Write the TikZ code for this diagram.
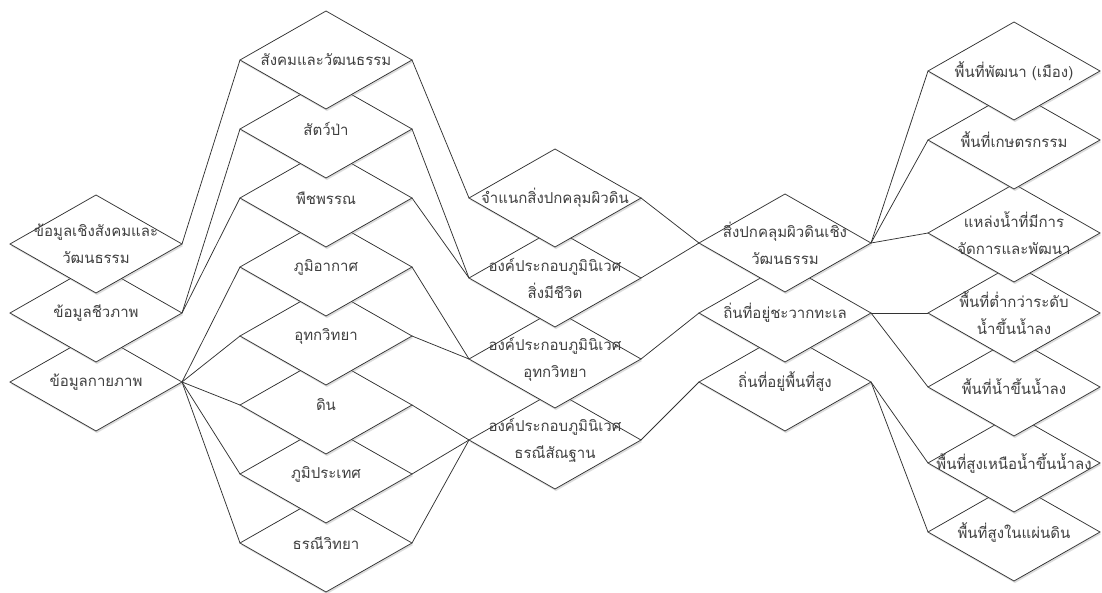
\documentclass[tikz,border=0pt]{standalone}
\usepackage{fontspec}
\newfontfamily\thaifont[Script=Thai]{Loma}
\usetikzlibrary{shapes.geometric,shadows}
\pgfdeclarelayer{background}
\pgfsetlayers{background,main}

\tikzset{
  box/.style={diamond, draw=black!80, line width=0.75pt, fill=white,
    minimum width=172pt, minimum height=98pt, inner sep=0pt, outer sep=0pt,
    drop shadow={shadow xshift=1pt, shadow yshift=-2pt, opacity=0.3, fill=black!45}},
  txt/.style={font=\thaifont\fontsize{15}{27}\selectfont, text=black!75,
    align=center, inner sep=0pt},
  link/.style={draw=black!80, line width=0.75pt}
}

\begin{document}
\begin{tikzpicture}[x=1pt,y=-1pt]
\useasboundingbox (0,0) rectangle (1102,592);

% column 1: source data (lower diamonds first, upper ones lie on top)
\node[box, label={[txt,name=t1c]center:ข้อมูลกายภาพ}] (c1c) at (96,382) {};
\node[box, label={[txt,name=t1b]center:ข้อมูลชีวภาพ}] (c1b) at (96,313) {};
\node[box, label={[txt,name=t1a]center:{ข้อมูลเชิงสังคมและ\\วัฒนธรรม}}] (c1a) at (96,244) {};

% column 2: themes
\node[box, label={[txt,name=t2h]center:ธรณีวิทยา}] (c2h) at (326,543) {};
\node[box, label={[txt,name=t2g]center:ภูมิประเทศ}] (c2g) at (326,474) {};
\node[box, label={[txt,name=t2f]center:ดิน}] (c2f) at (326,405) {};
\node[box, label={[txt,name=t2e]center:อุทกวิทยา}] (c2e) at (326,336) {};
\node[box, label={[txt,name=t2d]center:ภูมิอากาศ}] (c2d) at (326,267) {};
\node[box, label={[txt,name=t2c]center:พืชพรรณ}] (c2c) at (326,198) {};
\node[box, label={[txt,name=t2b]center:สัตว์ป่า}] (c2b) at (326,129) {};
\node[box, label={[txt,name=t2a]center:สังคมและวัฒนธรรม}] (c2a) at (326,60) {};

% column 3: components
\node[box, label={[txt,name=t3d]center:{องค์ประกอบภูมินิเวศ\\ธรณีสัณฐาน}}] (c3d) at (555,440) {};
\node[box, label={[txt,name=t3c]center:{องค์ประกอบภูมินิเวศ\\อุทกวิทยา}}] (c3c) at (555,359) {};
\node[box, label={[txt,name=t3b]center:{องค์ประกอบภูมินิเวศ\\สิ่งมีชีวิต}}] (c3b) at (555,278) {};
\node[box, label={[txt,name=t3a]center:จำแนกสิ่งปกคลุมผิวดิน}] (c3a) at (555,198) {};

% column 4: habitat groups
\node[box, label={[txt,name=t4c]center:ถิ่นที่อยู่พื้นที่สูง}] (c4c) at (785,382) {};
\node[box, label={[txt,name=t4b]center:ถิ่นที่อยู่ชะวากทะเล}] (c4b) at (785,313) {};
\node[box, label={[txt,name=t4a]center:{สิ่งปกคลุมผิวดินเชิง\\วัฒนธรรม}}] (c4a) at (785,243) {};

% column 5: area classes
\node[box, label={[txt,name=t5g]center:พื้นที่สูงในแผ่นดิน}] (c5g) at (1014,532) {};
\node[box, label={[txt,name=t5f]center:พื้นที่สูงเหนือน้ำขึ้นน้ำลง}] (c5f) at (1014,463) {};
\node[box, label={[txt,name=t5e]center:พื้นที่น้ำขึ้นน้ำลง}] (c5e) at (1014,387) {};
\node[box, label={[txt,name=t5d]center:{พื้นที่ต่ำกว่าระดับ\\น้ำขึ้นน้ำลง}}] (c5d) at (1014,313) {};
\node[box, label={[txt,name=t5c]center:{แหล่งน้ำที่มีการ\\จัดการและพัฒนา}}] (c5c) at (1014,233) {};
\node[box, label={[txt,name=t5b]center:พื้นที่เกษตรกรรม}] (c5b) at (1014,140) {};
\node[box, label={[txt,name=t5a]center:พื้นที่พัฒนา (เมือง)}] (c5a) at (1014,71) {};

% white page, then the connectors, vertex to vertex, behind the diamonds
\begin{pgfonlayer}{background}
\fill[white] (0,0) rectangle (1102,592);
\draw[link] (c1a.east) -- (c2a.west);
\draw[link] (c1b.east) -- (c2b.west);
\draw[link] (c1b.east) -- (c2c.west);
\foreach \t in {c2d,c2e,c2f,c2g,c2h} \draw[link] (c1c.east) -- (\t.west);
\draw[link] (c2a.east) -- (c3a.west);
\draw[link] (c2b.east) -- (c3b.west);
\draw[link] (c2c.east) -- (c3b.west);
\draw[link] (c2d.east) -- (c3c.west);
\draw[link] (c2e.east) -- (c3c.west);
\draw[link] (c2f.east) -- (c3d.west);
\draw[link] (c2g.east) -- (c3d.west);
\draw[link] (c2h.east) -- (c3d.west);
\draw[link] (c3a.east) -- (c4a.west);
\draw[link] (c3b.east) -- (c4a.west);
\draw[link] (c3c.east) -- (c4b.west);
\draw[link] (c3d.east) -- (c4c.west);
\foreach \t in {c5a,c5b,c5c} \draw[link] (c4a.east) -- (\t.west);
\foreach \t in {c5d,c5e} \draw[link] (c4b.east) -- (\t.west);
\foreach \t in {c5f,c5g} \draw[link] (c4c.east) -- (\t.west);
\end{pgfonlayer}
\end{tikzpicture}
\end{document}
